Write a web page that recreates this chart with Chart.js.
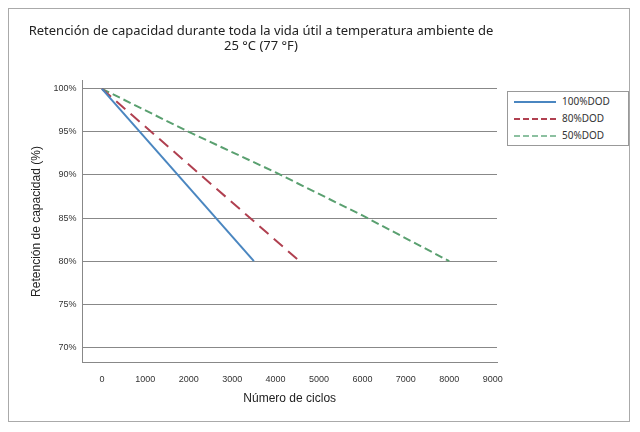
<!DOCTYPE html>
<html><head><meta charset="utf-8">
<script src="https://cdn.jsdelivr.net/npm/chart.js"></script>
<style>
body{margin:0;background:#fff;font-family:"Noto Sans",sans-serif}
#frame{position:absolute;left:8px;top:8px;width:620px;height:412px;border:1px solid #aaa}
#wrap{position:absolute;left:0;top:0;width:640px;height:432px}
#leg{position:absolute;left:507px;top:91px;width:120px;height:53px;border:1px solid #999;font-size:10px;color:#333;background:#fff}
#leg div{height:15px;line-height:15px;margin-top:2px;display:flex;align-items:center}
#leg span{display:inline-block;width:42px;margin:0 6px 0 6px}
</style></head><body>
<div id="frame"></div>
<div id="wrap"><canvas id="c" width="640" height="432"></canvas></div>
<div id="leg">
<div><span style="border-top:2px solid #4a86c0"></span>100%DOD</div>
<div><span style="border-top:2px dashed #b04050"></span>80%DOD</div>
<div><span style="border-top:2px dashed #8cc0a0"></span>50%DOD</div>
</div>
<script>
const xTicks=[0,1000,2000,3000,4000,5000,6000,7000,8000,9000];
const yTicks=[70,75,80,85,90,95,100];
const dod100=[{x:0,y:100},{x:3500,y:80}];
const dod80=[{x:0,y:100},{x:4550,y:80}];
const dod50=[{x:0,y:100},{x:2000,y:95},{x:4000,y:90.3},{x:6000,y:85.3},{x:8000,y:80}];
new Chart(document.getElementById('c'),{type:'line',
data:{datasets:[
{label:'100%DOD',data:dod100,borderColor:'#4a86c0',borderWidth:2,pointRadius:0},
{label:'80%DOD',data:dod80,borderColor:'#b04050',borderWidth:2,borderDash:[12,7],pointRadius:0},
{label:'50%DOD',data:dod50,borderColor:'#5aa070',borderWidth:2,borderDash:[8,4],pointRadius:0}]},
options:{responsive:false,animation:false,
layout:{padding:{left:25,right:143,top:8,bottom:22}},
plugins:{legend:{display:false},
title:{display:true,text:['Retención de capacidad durante toda la vida útil a temperatura ambiente de','25 °C (77 °F)'],color:'#222',font:{size:13,weight:'normal',family:'Noto Sans'},padding:{top:15,bottom:26}}},
scales:{
x:{type:'linear',min:-450,max:9100,afterBuildTicks:a=>{a.ticks=xTicks.map(v=>({value:v}))},
grid:{display:false,drawTicks:true},border:{color:'#888'},
ticks:{color:'#333',font:{size:9},callback:v=>String(v)},
title:{display:true,text:'Número de ciclos',color:'#222',font:{size:12}}},
y:{min:68.2,max:101,afterBuildTicks:a=>{a.ticks=yTicks.map(v=>({value:v}))},
grid:{color:'#888',drawTicks:false},border:{color:'#888'},
ticks:{color:'#333',font:{size:9},padding:6,callback:v=>v+'%'},
title:{display:true,text:'Retención de capacidad (%)',color:'#222',font:{size:12}}}}}});
</script></body></html>
